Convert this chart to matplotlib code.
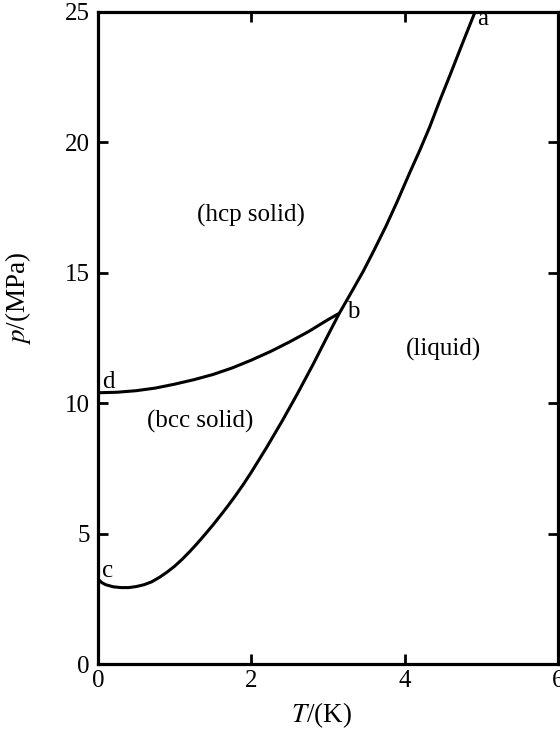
import matplotlib
matplotlib.use("Agg")
import matplotlib.pyplot as plt

# Melting curve c -> b -> a
melt_T = [0.0, 0.05, 0.1, 0.2, 0.3, 0.4, 0.5, 0.6, 0.7, 0.8, 0.9, 1.0, 1.1, 1.2,
          1.3, 1.4, 1.5, 1.6, 1.7, 1.8, 1.9, 2.0, 2.2, 2.4, 2.6, 2.8, 3.0, 3.15,
          3.3, 3.46, 3.6, 3.76, 3.9, 4.07, 4.2, 4.33, 4.46, 4.59, 4.75, 4.92]
melt_p = [3.25, 3.12, 3.04, 2.96, 2.93, 2.93, 2.97, 3.04, 3.15, 3.32, 3.52, 3.75,
          4.02, 4.32, 4.64, 4.98, 5.33, 5.7, 6.08, 6.48, 6.9, 7.35, 8.3, 9.3, 10.35,
          11.45, 12.6, 13.45, 14.22, 15.05, 15.85, 16.8, 17.7, 18.85, 19.7, 20.6,
          21.6, 22.55, 23.75, 25.0]

# hcp / bcc boundary d -> b
hb_T = [0.0, 0.25, 0.5, 0.75, 1.0, 1.25, 1.5, 1.75, 2.0, 2.25, 2.5, 2.75, 3.0, 3.15]
hb_p = [10.4, 10.42, 10.48, 10.58, 10.73, 10.9, 11.1, 11.35, 11.65, 11.98, 12.35,
        12.75, 13.2, 13.45]

point_labels = ["a", "b", "c", "d"]
point_T = [4.95, 3.25, 0.05, 0.05]
point_p = [24.5, 13.27, 3.34, 10.58]

region_labels = ["(hcp solid)", "(liquid)", "(bcc solid)"]
region_T = [2.0, 4.51, 1.33]
region_p = [17.18, 12.05, 9.3]

x_ticks = [0, 2, 4, 6]
y_ticks = [0, 5, 10, 15, 20, 25]

plt.rcParams['font.family'] = ['Liberation Serif', 'DejaVu Serif']
plt.rcParams['mathtext.fontset'] = 'stix'

fig = plt.figure(figsize=(5.6, 7.3), dpi=100)
ax = fig.add_axes([0.175, 0.0904, 0.821, 0.8932])

ax.plot(melt_T, melt_p, color='black', lw=2.2, solid_capstyle='butt',
        solid_joinstyle='round')
ax.plot(hb_T, hb_p, color='black', lw=2.2, solid_capstyle='butt',
        solid_joinstyle='round')

for lab, t, p in zip(point_labels, point_T, point_p):
    ax.text(t, p, lab, fontsize=18, ha='left', va='baseline')

for lab, t, p in zip(region_labels, region_T, region_p):
    ax.text(t, p, lab, fontsize=18, ha='center', va='center')

ax.set_xlim(0, 6)
ax.set_ylim(0, 25)
ax.set_xticks(x_ticks)
ax.set_yticks(y_ticks)
ax.tick_params(direction='in', length=7, width=2, labelsize=18, top=True, right=True)
ax.tick_params(axis='y', pad=6)
ax.tick_params(axis='x', pad=4)
for s in ax.spines.values():
    s.set_linewidth(2.3)

ax.set_xlabel(r"$T$/(K)", fontsize=19.5)
ax.set_ylabel(r"$p$/(MPa)", fontsize=19.5)
ax.xaxis.set_label_coords(0.487, -0.078)
ax.yaxis.set_label_coords(-0.174, 0.561)
ax.xaxis.label.set_va('center')
ax.yaxis.label.set_va('center')

fig.savefig("out.png", dpi=100)
